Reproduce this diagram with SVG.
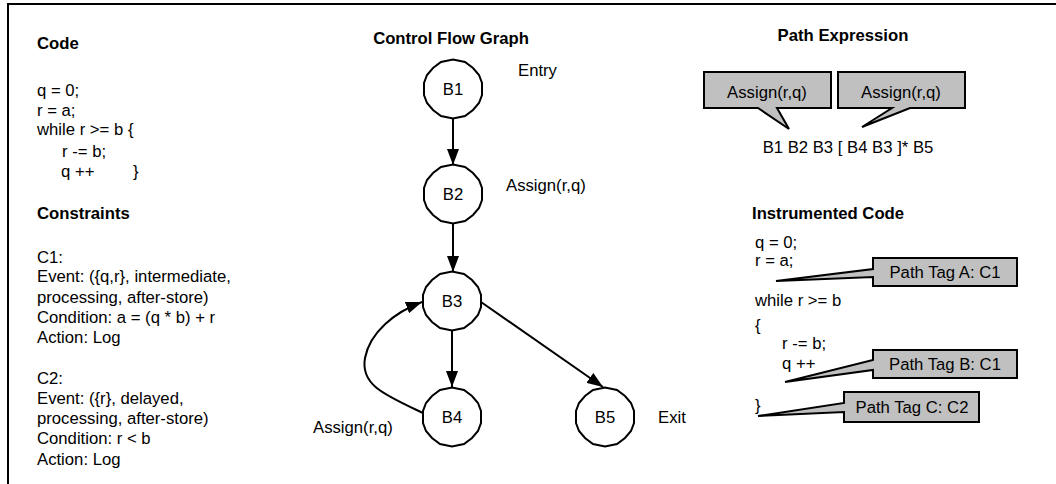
<svg xmlns="http://www.w3.org/2000/svg" xmlns:xlink="http://www.w3.org/1999/xlink" width="1056" height="484" viewBox="0 0 1056 484">
<style>
text{font-family:"Liberation Sans",Arial,sans-serif;font-size:16.7px;fill:#000}
.b{font-weight:bold}
.m{text-anchor:middle}
.node{fill:#fff;stroke:#000;stroke-width:2}
.edge{fill:none;stroke:#000;stroke-width:2;marker-end:url(#ah)}
.call{fill:#c0c0c0;stroke:#000;stroke-width:2;stroke-linejoin:miter}
</style>
<defs>
<marker id="ah" markerUnits="userSpaceOnUse" markerWidth="16" markerHeight="12" refX="16" refY="6" orient="auto"><path d="M0,0 L16,6 L0,12 Z" fill="#000"/></marker>
<polygon id="blob" points="29,-6 29,6 26,14 20,21 12,27 0,29.5 -12,27 -20,21 -26,14 -29,6 -29,-6 -26,-14 -20,-21 -12,-27 0,-29.5 12,-27 20,-21 26,-14"/>
</defs>
<rect width="1056" height="484" fill="#fff"/>
<path d="M8,484 V4 H1056" fill="none" stroke="#000" stroke-width="2"/>

<g id="code">
<text class="b" x="37" y="49">Code</text>
<text x="37" y="96">q = 0;</text>
<text x="37" y="116">r = a;</text>
<text x="37" y="135">while r &gt;= b {</text>
<text x="62" y="157">r -= b;</text>
<text x="61" y="177">q ++</text>
<text x="133" y="177">}</text>
</g>
<g id="constraints">
<text class="b" x="37" y="219">Constraints</text>
<text x="37" y="263">C1:</text>
<text x="37" y="282">Event: ({q,r}, intermediate,</text>
<text x="37" y="303">processing, after-store)</text>
<text x="37" y="323">Condition: a = (q * b) + r</text>
<text x="37" y="343">Action: Log</text>
<text x="37" y="384">C2:</text>
<text x="37" y="404">Event: ({r}, delayed,</text>
<text x="37" y="424">processing, after-store)</text>
<text x="37" y="444">Condition: r &lt; b</text>
<text x="37" y="465">Action: Log</text>
</g>

<text class="b m" x="451" y="44">Control Flow Graph</text>
<text x="518" y="76">Entry</text>
<text x="506" y="191">Assign(r,q)</text>
<text x="313" y="433">Assign(r,q)</text>
<text x="658" y="423">Exit</text>

<g id="connectors">
<path class="edge" d="M453,118.5 L453,165"/>
<path class="edge" d="M453,223.5 L453,272"/>
<path class="edge" d="M452,330 L452,387"/>
<path class="edge" d="M481,302 L603,387"/>
<path class="edge" d="M423,413 C385,395 360,385 365,358 C370,332 395,312 422,302"/>
</g>

<g id="B1"><use xlink:href="#blob" x="453" y="89" class="node"/><text class="m" x="453" y="95">B1</text></g>
<g id="B2"><use xlink:href="#blob" x="453" y="194" class="node"/><text class="m" x="453" y="200">B2</text></g>
<g id="B3"><use xlink:href="#blob" x="452" y="301" class="node"/><text class="m" x="452" y="307">B3</text></g>
<g id="B4"><use xlink:href="#blob" x="452" y="417" class="node"/><text class="m" x="452" y="423">B4</text></g>
<g id="B5"><use xlink:href="#blob" x="605" y="417" class="node"/><text class="m" x="605" y="423">B5</text></g>

<g id="path-expression">
<text class="b m" x="843" y="41">Path Expression</text>
<path class="call" d="M704,72 H831 V108 H777 L789,129 L758,108 H704 Z"/>
<text class="m" x="767" y="98">Assign(r,q)</text>
<path class="call" d="M838,72 H965 V108 H910 L862,127 L892,108 H838 Z"/>
<text class="m" x="901" y="98">Assign(r,q)</text>
<text class="m" x="848" y="153">B1 B2 B3 [ B4 B3 ]* B5</text>
</g>

<g id="instrumented">
<text class="b" x="752" y="219">Instrumented Code</text>
<text x="755" y="248">q = 0;</text>
<text x="755" y="266">r = a;</text>
<text x="755" y="306">while r &gt;= b</text>
<text x="755" y="331">{</text>
<text x="782" y="349">r -= b;</text>
<text x="782" y="369">q ++</text>
<text x="755" y="411">}</text>
</g>
<g id="tagA">
<path class="call" d="M873,258 H1017 V286 H873 V277 L776,281 L873,269 Z"/>
<text class="m" x="945" y="278">Path Tag A: C1</text>
</g>
<g id="tagB">
<path class="call" d="M873,350 H1017 V378 H873 V370 L785,382 L873,360 Z"/>
<text class="m" x="945" y="370">Path Tag B: C1</text>
</g>
<g id="tagC">
<path class="call" d="M844,392 H979 V422 H844 V412 L758,416 L844,403 Z"/>
<text class="m" x="912" y="413">Path Tag C: C2</text>
</g>
</svg>
